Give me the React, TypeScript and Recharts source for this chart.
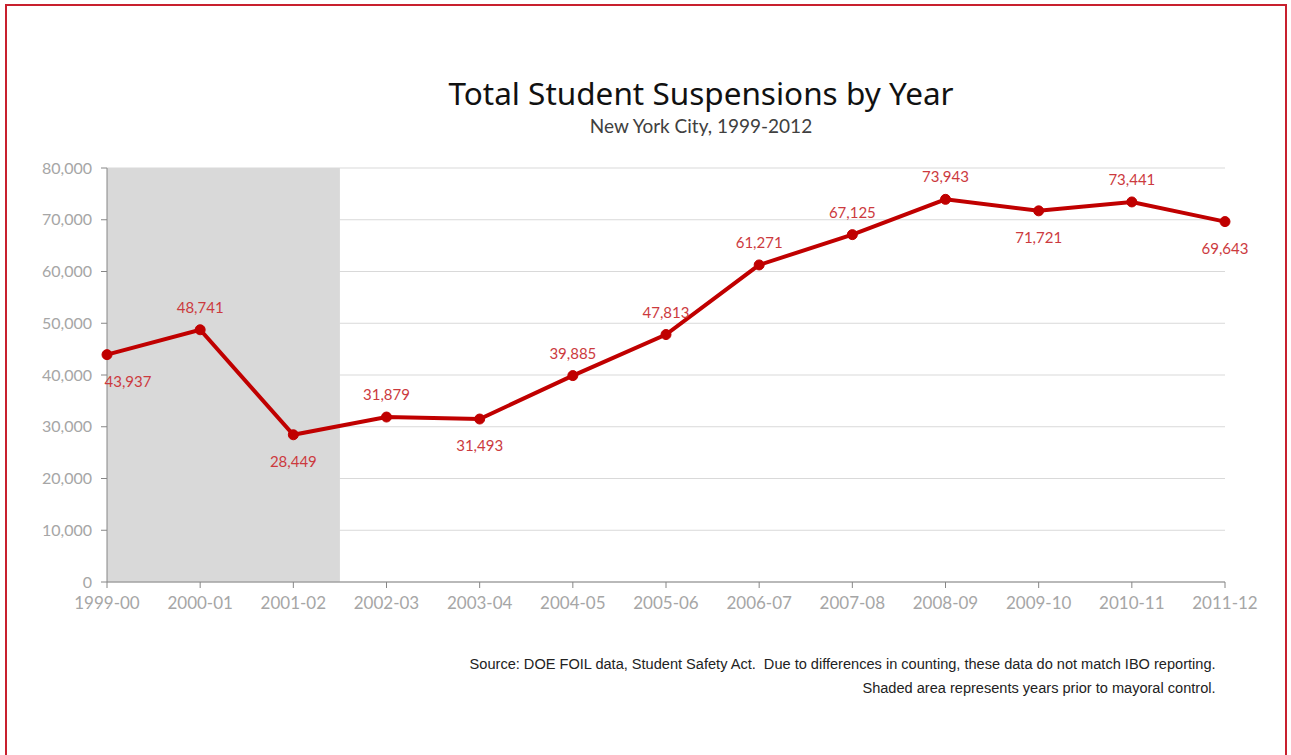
import React from 'react';
import {
  LineChart,
  Line,
  XAxis,
  YAxis,
  CartesianGrid,
  ReferenceArea,
} from 'recharts';

// School years on the x axis
const years = [
  '1999-00', '2000-01', '2001-02', '2002-03', '2003-04', '2004-05', '2005-06',
  '2006-07', '2007-08', '2008-09', '2009-10', '2010-11', '2011-12',
];

// Total suspensions per year
const suspensions = [
  43937, 48741, 28449, 31879, 31493, 39885, 47813,
  61271, 67125, 73943, 71721, 73441, 69643,
];

const yTicks = [0, 10000, 20000, 30000, 40000, 50000, 60000, 70000, 80000];

// years before mayoral control (shaded), ends halfway to 2002-03
const shadedFrom = 0;
const shadedTo = 2.5;

const data = years.map((year, i) => ({ idx: i, year, value: suspensions[i] }));

const fmt = (v: number) => v.toLocaleString('en-US');

const BELOW = [0, 2, 4, 10, 12];

const ValueLabel = (props: any) => {
  const { x, y, value, index } = props;
  const below = BELOW.includes(index);
  const dx = index === 0 ? 21 : 0;
  return (
    <text
      x={x + dx}
      y={below ? y + 26 : y - 23}
      textAnchor="middle"
      dominantBaseline="central"
      fill="#cc3a3e"
      fontSize={15}
      fontFamily="Lato, 'Noto Sans', sans-serif"
    >
      {fmt(value)}
    </text>
  );
};

export default function App() {
  return (
    <div
      style={{
        position: 'absolute',
        left: 0,
        top: 0,
        width: 1291,
        height: 755,
        background: '#fff',
        overflow: 'hidden',
        fontFamily: "Lato, 'Noto Sans', sans-serif",
      }}
    >
      <div
        style={{
          position: 'absolute',
          left: 5,
          top: 4,
          width: 1282,
          height: 780,
          border: '2px solid #c8202e',
          boxSizing: 'border-box',
        }}
      />
      <div
        style={{
          position: 'absolute',
          left: 0,
          width: 1402,
          top: 71,
          textAlign: 'center',
          fontSize: 31.5,
          color: '#111',
          fontFamily: "'Noto Sans', sans-serif",
        }}
      >
        Total Student Suspensions by Year
      </div>
      <div
        style={{
          position: 'absolute',
          left: 0,
          width: 1402,
          top: 114,
          textAlign: 'center',
          fontSize: 19,
          color: '#404040',
        }}
      >
        New York City, 1999-2012
      </div>

      <div style={{ position: 'absolute', left: 0, top: 0 }}>
        <LineChart
          width={1291}
          height={755}
          data={data}
          margin={{ top: 168, right: 66, left: 0, bottom: 143 }}
        >
          <CartesianGrid horizontal vertical={false} stroke="#d9d9d9" strokeWidth={1} />
          <ReferenceArea
            x1={shadedFrom}
            x2={shadedTo}
            y1={0}
            y2={80000}
            fill="#d9d9d9"
            fillOpacity={1}
            stroke="none"
            ifOverflow="hidden"
          />
          <XAxis
            dataKey="idx"
            type="number"
            domain={[0, years.length - 1]}
            ticks={data.map((d) => d.idx)}
            tickFormatter={(v: number) => years[v]}
            interval={0}
            stroke="#868686"
            tick={{ fill: '#a6a6a6', fontSize: 17 }}
            tickSize={6}
            tickMargin={9}
            height={30}
          />
          <YAxis
            domain={[0, 80000]}
            ticks={yTicks}
            tickFormatter={fmt}
            stroke="#868686"
            tick={{ fill: '#a6a6a6', fontSize: 16 }}
            tickSize={6}
            tickMargin={9}
            width={107}
          />
          <Line
            type="linear"
            dataKey="value"
            stroke="#c00000"
            strokeWidth={4}
            dot={{ r: 5, fill: '#c00000', stroke: '#c00000', strokeWidth: 1 }}
            activeDot={false}
            isAnimationActive={false}
            label={<ValueLabel />}
          />
        </LineChart>
      </div>

      <div
        style={{
          position: 'absolute',
          right: 1291 - 1216,
          top: 652,
          textAlign: 'right',
          fontSize: 15.5,
          lineHeight: '24px',
          color: '#222',
          whiteSpace: 'nowrap',
          transform: 'scaleX(0.94)',
          transformOrigin: 'right center',
          fontFamily: "'Liberation Sans', sans-serif",
        }}
      >
        <div>Source: DOE FOIL data, Student Safety Act.&nbsp; Due to differences in counting, these data do not match IBO reporting.</div>
        <div>Shaded area represents years prior to mayoral control.</div>
      </div>
    </div>
  );
}
